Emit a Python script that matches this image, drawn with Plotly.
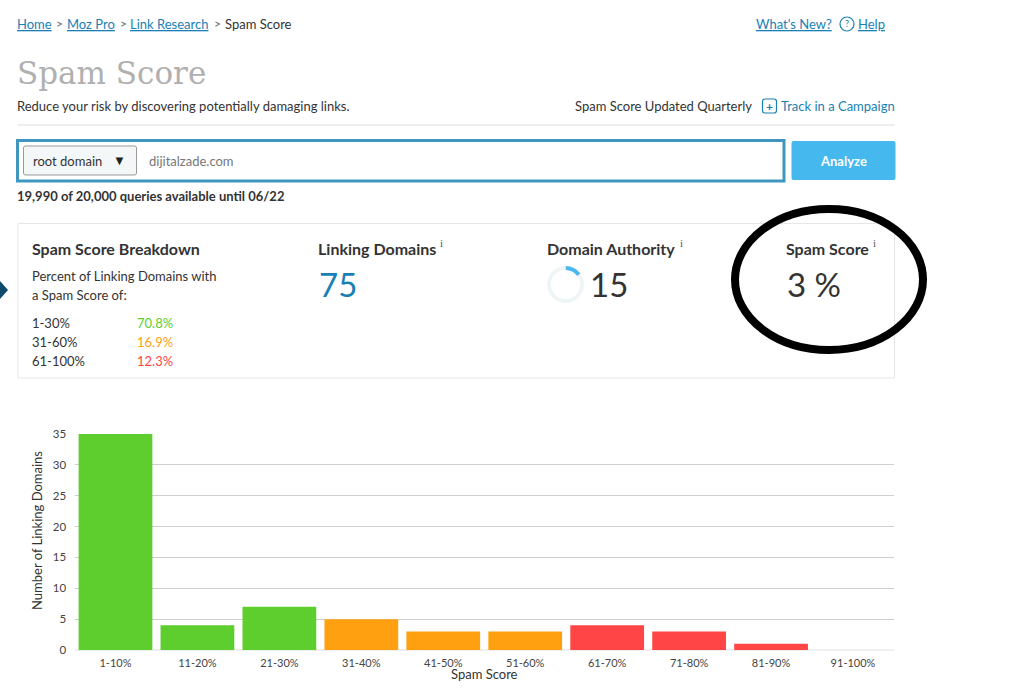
#!/usr/bin/env python3
"""Moz Pro spam score page, redrawn with Plotly."""

import plotly.graph_objects as go

W = 1024
H = 691

# bar chart
score_bins = ["1-10%", "11-20%", "21-30%", "31-40%", "41-50%", "51-60%", "61-70%", "71-80%", "81-90%", "91-100%"]
domain_counts = [35, 4, 7, 5, 3, 3, 4, 3, 1, 0]
bin_colors = ["#5ecd2e"] * 3 + ["#ffa010"] * 3 + ["#ff4545"] * 4
y_ticks = [0, 5, 10, 15, 20, 25, 30, 35]

# breakdown panel
breakdown_labels = ["1-30%", "31-60%", "61-100%"]
breakdown_values = ["70.8%", "16.9%", "12.3%"]
breakdown_colors = ["#5ecd2e", "#ffa010", "#ff4545"]

# domain authority ring
authority_split = [15, 85]
authority_colors = ["#4ab8ec", "#eff5f6"]

FONT = "Lato"
LINK = "#1a7fb5"
DARK = "#333333"


def px(x):
    return x / W


def py(y):
    return 1 - y / H


def text(x, y, s, size=13, color=DARK, anchor="left", weight=400, family=FONT, angle=0):
    fig.add_annotation(
        x=px(x), y=py(y), xref="paper", yref="paper", text=s, showarrow=False,
        xanchor=anchor, yanchor="middle", borderpad=0, borderwidth=0, textangle=angle,
        font=dict(family=family, size=size, color=color, weight=weight),
    )


def box(x0, y0, x1, y1, line=None, fill=None, width=1, kind="rect", layer="below"):
    fig.add_shape(
        type=kind, xref="paper", yref="paper", layer=layer,
        x0=px(x0), y0=py(y0), x1=px(x1), y1=py(y1),
        line=dict(color=line, width=width if line else 0),
        fillcolor=fill,
    )


def rounded(x0, y0, x1, y1, r, line=None, fill=None, width=1):
    # rounded rectangle, corners as quadratic curves
    path = (
        f"M {px(x0 + r)} {py(y0)} L {px(x1 - r)} {py(y0)} Q {px(x1)} {py(y0)} {px(x1)} {py(y0 + r)} "
        f"L {px(x1)} {py(y1 - r)} Q {px(x1)} {py(y1)} {px(x1 - r)} {py(y1)} "
        f"L {px(x0 + r)} {py(y1)} Q {px(x0)} {py(y1)} {px(x0)} {py(y1 - r)} "
        f"L {px(x0)} {py(y0 + r)} Q {px(x0)} {py(y0)} {px(x0 + r)} {py(y0)} Z"
    )
    fig.add_shape(
        type="path", xref="paper", yref="paper", layer="below", path=path,
        line=dict(color=line, width=width if line else 0), fillcolor=fill,
    )


fig = go.Figure()

fig.add_trace(
    go.Bar(
        x=score_bins, y=domain_counts, marker=dict(color=bin_colors, line=dict(width=0)),
        width=0.9, showlegend=False, hoverinfo="skip",
    )
)
fig.add_trace(
    go.Pie(
        values=authority_split, hole=0.79, sort=False, direction="clockwise", rotation=0,
        marker=dict(colors=authority_colors, line=dict(width=0)),
        textinfo="none", showlegend=False, hoverinfo="skip",
        domain=dict(x=[px(547), px(584)], y=[py(303), py(266)]),
    )
)

fig.update_layout(
    width=W, height=H, margin=dict(l=0, r=0, t=0, b=0), autosize=False,
    paper_bgcolor="white", plot_bgcolor="white", hovermode=False,
    font=dict(family=FONT, size=11, color="#444444"),
    xaxis=dict(
        domain=[px(74.5), px(894)], type="category", showgrid=False, showline=False, automargin=False,
        zeroline=False, ticks="outside", ticklen=3, tickcolor="white", tickfont=dict(size=11, color="#444444"),
    ),
    yaxis=dict(
        domain=[py(650), py(434)], range=[0, 35], tickvals=y_ticks, showgrid=True, automargin=False,
        gridcolor="#cfcfcf", gridwidth=1, zeroline=True, zerolinecolor="#efefef", showline=False,
        ticks="outside", ticklen=5, tickcolor="white", tickfont=dict(size=11.5, color="#444444"),
    ),
)

# page furniture
box(18, 124.5, 895, 125.5, fill="#dddddd")
box(17.5, 140.5, 784, 181, line="#3f97bf", width=3)
rounded(23.5, 146, 136.5, 175, 2, line="#999999", fill="#f3f7f8")
rounded(791.5, 141, 895.5, 180, 2, fill="#45b8ee")
box(18, 223.5, 894.5, 378, line="#e6e6e6")
box(840, 17, 854, 31, line=LINK, kind="circle", width=1.2)
rounded(762.5, 99, 776.5, 113, 2.5, line=LINK, width=1.2)

fig.add_shape(
    type="path", xref="paper", yref="paper", fillcolor="#0d4a6b", line=dict(width=0),
    path=f"M {px(0)} {py(281)} L {px(8)} {py(290)} L {px(0)} {py(299)} Z",
)
box(735, 209, 923, 350, line="black", width=8, kind="circle", layer="above")

# breadcrumb
text(17, 24, "<u>Home</u>", color=LINK)
text(56, 23, "&gt;", 12, "#666666")
text(67, 24, "<u>Moz Pro</u>", color=LINK)
text(120, 23, "&gt;", 12, "#666666")
text(130, 24, "<u>Link Research</u>", color=LINK)
text(214, 23, "&gt;", 12, "#666666")
text(225, 24, "Spam Score")
text(756, 24, "<u>What's New?</u>", color=LINK)
text(847, 24, "?", 9, LINK, "center")
text(858, 24, "<u>Help</u>", color=LINK)

# header
text(17, 73, "Spam Score", 31, "#b0b0b0", family="DejaVu Serif")
text(17, 106, "Reduce your risk by discovering potentially damaging links.", 13)
text(575, 106, "Spam Score Updated Quarterly", 13)
text(769.5, 106, "+", 12, LINK, "center", 700)
text(781, 106, "Track in a Campaign", 13, LINK)

# search row
text(33, 161, "root domain", 13)
text(119, 160, "▼", 13, "#222222", "center")
text(149, 161, "dijitalzade.com", 13, "#777777")
text(843, 161, "Analyze", 13, "white", "center", 700)
text(17, 196, "19,990 of 20,000 queries available until 06/22", 13, DARK, weight=700)

# breakdown panel
text(32, 248, "Spam Score Breakdown", 16, DARK, weight=700)
text(32, 276, "Percent of Linking Domains with", 13)
text(32, 295, "a Spam Score of:", 13)
for row_y, label, value, color in zip([323, 342, 361], breakdown_labels, breakdown_values, breakdown_colors):
    text(32, row_y, label, 13)
    text(137, row_y, value, 13, color)

# metrics
text(318, 248, "Linking Domains", 16, DARK, weight=700)
text(441, 243, "i", 11, "#555555", "center", family="Liberation Serif")
text(319, 284, "75", 33, LINK)
text(547, 248, "Domain Authority", 16, DARK, weight=700)
text(681, 243, "i", 11, "#555555", "center", family="Liberation Serif")
text(590, 284, "15", 33)
text(786, 248, "Spam Score", 16, DARK, weight=700)
text(874, 243, "i", 11, "#555555", "center", family="Liberation Serif")
text(787, 284, "3 %", 33)

# axis titles sit closer in than plotly's own title placement allows, so placed by hand
text(37, 531, "Number of Linking Domains", 13, DARK, "center", angle=-90)
text(484, 674, "Spam Score", 13, DARK, "center")

# the page body has a default margin, drop it so pixels line up
fig.write_html("out.html", config={"displayModeBar": False}, post_script="document.body.style.margin='0';")
